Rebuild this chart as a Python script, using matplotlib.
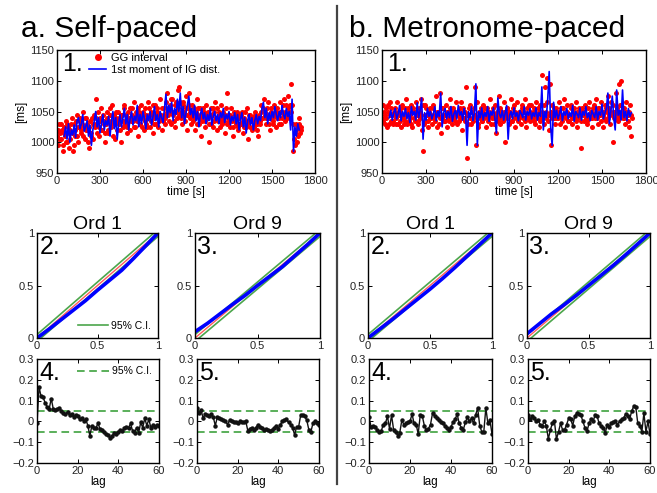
import numpy as np
import matplotlib
matplotlib.use("Agg")
import matplotlib.pyplot as plt
from matplotlib.lines import Line2D

plt.rcParams['font.family'] = ['Liberation Sans', 'DejaVu Sans']

W, H = 657, 493

# ---------------- data ----------------
# Self-paced: 1st moment of IG dist. (blue), t = 50..1690 step 10
sp_blue = [1010, 1025, 1005, 1030, 1000, 1020, 1012, 1028, 1008, 1035,
           1040, 1022, 1030, 1045, 1018, 1025, 1035, 1010, 1028, 995,
           1020, 1035, 1050, 1025, 1040, 1015, 1030, 1045, 1020, 1035,
           1028, 1042, 1010, 1035, 1050, 1022, 1040, 1005, 1030, 1045,
           1025, 1040, 1055, 1030, 1045, 1020, 1038, 1050, 1028, 1042,
           1035, 1060, 1025, 1045, 1030, 1050, 1038, 1022, 1045, 1035,
           1050, 1028, 1042, 1058, 1035, 1045, 1025, 1050, 1040, 1032,
           1055, 1078, 1040, 1060, 1048, 1065, 1035, 1055, 1045, 1070,
           1050, 1080, 1040, 1058, 1030, 1048, 1062, 1075, 1045, 1055,
           1040, 1060, 1035, 1050, 1025, 1045, 1055, 1038, 1048, 1030,
           1045, 1035, 1055, 1028, 1042, 1050, 1035, 1045, 1030, 1048,
           1040, 1055, 1032, 1045, 1038, 1050, 1028, 1042, 1035, 1048,
           1030, 1045, 1020, 1038, 1048, 1025, 1040, 1015, 1035, 1045,
           1028, 1040, 1020, 1035, 1045, 1030, 1042, 1035, 1055, 1065,
           1040, 1055, 1030, 1048, 1035, 1050, 1040, 1058, 1045, 1035,
           1050, 1040, 1060, 1045, 1038, 1055, 1042, 1050, 1020, 1070,
           985, 1025, 1010, 1030, 1020]
sp_blue_t0, sp_blue_t1 = 50, 1690

# Self-paced: GG interval (red dots), two interleaved lists evenly over 0..1700 s
sp_red = [1010, 995, 1030, 1005, 1020, 985, 1015, 1035, 1000, 1025,
          990, 1020, 1040, 985, 1030, 1010, 1045, 1000, 1025, 1035,
          1015, 1050, 1025, 1005, 1040, 1020, 990, 1035, 1010, 1030,
          1045, 1025, 1070, 1030, 1010, 1040, 1055, 1020, 1035, 1000,
          1030, 1050, 1015, 1045, 1025, 1060, 1035, 1005, 1040, 1020,
          1050, 1030, 1000, 1045, 1025, 1060, 1035, 1015, 1050, 1040,
          1020, 1055, 1035, 1065, 1025, 1045, 1010, 1050, 1030, 1060,
          1040, 1020, 1055, 1030, 1065, 1045, 1025, 1050, 1015, 1040,
          1060, 1030, 1050, 1035, 1070, 1045, 1020, 1055, 1040, 1065,
          1080, 1045, 1060, 1030, 1070, 1050, 1025, 1065, 1040, 1085,
          1090, 1050, 1030, 1065, 1045, 1075, 1020, 1055, 1080, 1040,
          1060, 1035, 1050, 1020, 1070, 1045, 1030, 1055, 1010, 1040,
          1050, 1025, 1060, 1040, 1000, 1045, 1030, 1055, 1035, 1065,
          1040, 1020, 1050, 1035, 1060, 1030, 1045, 1015, 1055, 1080,
          1040, 1025, 1055, 1035, 1010, 1045, 1030, 1050, 1020, 1040,
          1030, 1050, 1015, 1040, 1025, 1055, 1005, 1035, 1045, 1020,
          1040, 1025, 1050, 1030, 1010, 1045, 1035, 1060, 1040, 1070,
          1050, 1030, 1065, 1040, 1020, 1055, 1035, 1060, 1045, 1025,
          1055, 1040, 1065, 1030, 1050, 1070, 1035, 1060, 1045, 1075,
          1040, 1095, 1060, 985, 1015, 1030, 1000, 1025, 1040, 1020]
sp_red2 = [1020, 1005, 1015, 1030, 995, 1025, 1010, 1000, 1030, 1015,
           1005, 1030, 1015, 995, 1020, 1035, 1010, 1025, 1040, 1020,
           1030, 1010, 1040, 1020, 1030, 1000, 1025, 1015, 1040, 1005,
           1030, 1040, 1015, 1050, 1025, 1035, 1020, 1045, 1030, 1015,
           1040, 1020, 1035, 1055, 1030, 1010, 1045, 1030, 1050, 1035,
           1040, 1020, 1045, 1035, 1055, 1030, 1045, 1025, 1040, 1055,
           1035, 1045, 1025, 1040, 1050, 1035, 1055, 1030, 1045, 1025,
           1050, 1035, 1045, 1025, 1040, 1055, 1035, 1045, 1060, 1030,
           1045, 1055, 1025, 1045, 1040, 1055, 1035, 1045, 1030, 1050,
           1055, 1035, 1050, 1070, 1045, 1035, 1060, 1050, 1055, 1045,
           1065, 1040, 1060, 1050, 1035, 1055, 1045, 1060, 1050, 1030,
           1045, 1055, 1040, 1050, 1030, 1055, 1040, 1045, 1035, 1055,
           1035, 1045, 1040, 1050, 1030, 1055, 1045, 1025, 1050, 1040,
           1055, 1035, 1045, 1025, 1040, 1050, 1035, 1045, 1030, 1045,
           1035, 1045, 1040, 1025, 1050, 1035, 1040, 1025, 1045, 1030,
           1045, 1035, 1025, 1050, 1035, 1030, 1045, 1025, 1035, 1040,
           1030, 1045, 1035, 1020, 1040, 1030, 1050, 1040, 1055, 1045,
           1040, 1055, 1045, 1030, 1050, 1040, 1030, 1045, 1050, 1040,
           1045, 1030, 1050, 1040, 1060, 1045, 1050, 1040, 1055, 1050,
           1060, 1050, 1030, 1005, 995, 1020, 1010, 1030, 1015, 1025]

# Metronome-paced: blue, t = 50..1700 step 10
mp_blue = [1040, 1052, 1036, 1048, 1055, 1038, 1046, 1060, 1035, 1050,
           1042, 1055, 1038, 1048, 1032, 1058, 1044, 1050, 1036, 1064,
           1040, 1052, 1072, 1005, 1048, 1036, 1055, 1042, 1050, 1038,
           1046, 1058, 1035, 1050, 1042, 1080, 1025, 1048, 1055, 1038,
           1050, 1040, 1058, 1034, 1046, 1052, 1038, 1060, 1044, 1050,
           1036, 1055, 1045, 995, 1050, 1040, 1058, 1035, 1048, 1095,
           995, 1050, 1040, 1056, 1036, 1048, 1042, 1058, 1034, 1050,
           1044, 1056, 1038, 1015, 1072, 1046, 1040, 1052, 1036, 1048,
           1060, 1005, 1044, 1050, 1038, 1056, 1042, 1048, 1035, 1052,
           1046, 1040, 1058, 1036, 1050, 1044, 1055, 1038, 1048, 1042,
           1056, 1036, 1048, 1042, 1090, 1020, 1050, 1040, 1070, 1115,
           1025, 995, 1065, 1040, 1052, 1038, 1046, 1058, 1035, 1050,
           1044, 1055, 1038, 1048, 1042, 1060, 1034, 1050, 1046, 1040,
           1056, 1036, 1050, 1044, 1058, 1040, 1048, 1035, 1052, 1046,
           1040, 1058, 1036, 1050, 1044, 1062, 1038, 1048, 1055, 1080,
           1030, 1050, 1075, 1040, 1020, 1085, 1044, 1052, 1036, 1085,
           1040, 1050, 1035, 1055, 1042, 1048]
mp_blue_t0, mp_blue_t1 = 50, 1700

mp_red = [1040, 1060, 1030, 1055, 1025, 1050, 1065, 1035, 1045, 1030,
          1055, 1040, 1065, 1030, 1050, 1025, 1060, 1045, 1035, 1070,
          1030, 1055, 1040, 1060, 1025, 1050, 1035, 1065, 1045, 1030,
          1050, 1070, 1020, 985, 1060, 1035, 1045, 1025, 1055, 1040,
          1030, 1060, 1045, 1075, 1025, 1050, 1080, 1015, 1040, 1055,
          1035, 1060, 1025, 1050, 1070, 1040, 1030, 1055, 1045, 1065,
          1030, 1050, 1040, 1065, 1020, 1055, 1035, 1090, 975, 1045,
          1060, 1030, 1050, 1040, 1090, 995, 1065, 1025, 1045, 1055,
          1035, 1060, 1045, 1025, 1055, 1040, 1070, 1030, 1050, 1040,
          1060, 1015, 1045, 1075, 1030, 1050, 1040, 1065, 1000, 1045,
          1055, 1030, 1050, 1070, 1035, 1060, 1025, 1045, 1065, 1040,
          1050, 1030, 1060, 1040, 1070, 1025, 1055, 1045, 1035, 1060,
          1040, 1055, 1030, 1065, 1045, 1025, 1060, 1040, 1110, 1030,
          1090, 1050, 1105, 1020, 1095, 995, 1060, 1040, 1030, 1055,
          1045, 1065, 1030, 1055, 1040, 1070, 1025, 1050, 1060, 1035,
          1045, 1060, 1030, 1055, 1040, 1065, 1025, 1050, 1045, 990,
          1055, 1035, 1060, 1045, 1030, 1065, 1040, 1050, 1025, 1060,
          1040, 1070, 1030, 1055, 1045, 1065, 1025, 1050, 1060, 1035,
          1075, 1045, 1030, 1065, 1000, 1050, 1040, 1080, 1035, 1095,
          1060, 1100, 1040, 1055, 1030, 1065, 1045, 1025, 1060, 1010]
mp_red2 = [1035, 1050, 1045, 1040, 1060, 1030, 1045, 1055, 1035, 1050,
           1045, 1030, 1050, 1045, 1035, 1055, 1040, 1030, 1055, 1045,
           1050, 1035, 1045, 1030, 1055, 1040, 1050, 1045, 1035, 1055,
           1040, 1045, 1060, 1030, 1045, 1055, 1035, 1050, 1040, 1045,
           1055, 1040, 1035, 1050, 1045, 1030, 1040, 1055, 1045, 1035,
           1045, 1050, 1040, 1035, 1055, 1045, 1050, 1040, 1035, 1050,
           1045, 1035, 1055, 1040, 1050, 1040, 1050, 1045, 1030, 1055,
           1040, 1050, 1035, 1055, 1045, 1040, 1030, 1050, 1040, 1035,
           1050, 1040, 1055, 1045, 1035, 1050, 1045, 1040, 1055, 1030,
           1045, 1050, 1035, 1040, 1055, 1045, 1035, 1050, 1040, 1055,
           1040, 1050, 1045, 1035, 1055, 1040, 1050, 1040, 1035, 1050,
           1045, 1055, 1040, 1050, 1035, 1045, 1040, 1060, 1050, 1040,
           1050, 1035, 1045, 1040, 1055, 1050, 1035, 1050, 1045, 1060,
           1040, 1065, 1035, 1045, 1050, 1040, 1045, 1055, 1040, 1050,
           1040, 1050, 1045, 1035, 1055, 1045, 1040, 1050, 1035, 1045,
           1055, 1040, 1050, 1045, 1035, 1050, 1040, 1055, 1035, 1050,
           1045, 1050, 1040, 1035, 1055, 1045, 1050, 1040, 1055, 1045,
           1050, 1040, 1055, 1045, 1035, 1050, 1045, 1040, 1055, 1050,
           1040, 1055, 1050, 1045, 1060, 1040, 1050, 1055, 1045, 1040,
           1050, 1045, 1055, 1040, 1050, 1045, 1035, 1050, 1045, 1040]
red_t0, red_t1 = 0, 1700

# KS plots: model quantiles and deviation of empirical curve from diagonal
ks_x = [0.0, 0.1, 0.2, 0.3, 0.4, 0.5, 0.6, 0.7, 0.8, 0.9, 1.0]
ks_dev_sp1 = [0.0, -0.015, -0.025, -0.035, -0.045, -0.045, -0.05, -0.055, -0.04, -0.02, 0.0]
ks_dev_sp9 = [0.06, 0.04, 0.03, 0.02, 0.005, 0.0, -0.01, -0.02, -0.015, -0.01, 0.0]
ks_dev_mp1 = [0.0, -0.01, -0.02, -0.025, -0.03, -0.035, -0.035, -0.03, -0.02, -0.01, 0.0]
ks_dev_mp9 = [0.04, 0.035, 0.03, 0.015, 0.005, 0.0, -0.005, -0.01, -0.01, -0.005, 0.0]
ks_ci = 0.033

# Autocorrelation, lags 0..60
lags = list(range(61))
acf_sp1 = [-0.01, 0.165, 0.12, 0.115, 0.09, 0.07, 0.06, 0.11, 0.06, 0.055,
           0.06, 0.065, 0.05, 0.04, 0.035, 0.045, 0.03, 0.035, 0.02, 0.03,
           0.025, 0.01, 0.015, 0.0, 0.01, -0.02, -0.07, -0.02, -0.03, -0.03,
           -0.01, -0.035, -0.04, -0.05, -0.06, -0.065, -0.08, -0.07, -0.055, -0.06,
           -0.05, -0.04, -0.045, -0.03, -0.025, -0.03, -0.01, -0.045, -0.055, -0.03,
           -0.055, -0.005, -0.03, 0.015, -0.02, 0.01, -0.03, -0.015, -0.025, -0.015, -0.02]
acf_sp9 = [0.065, 0.04, 0.055, 0.015, 0.035, 0.03, 0.025, 0.035, 0.02, -0.02,
           0.02, 0.015, 0.01, 0.005, 0.0, -0.015, 0.005, 0.0, -0.005, -0.005,
           -0.01, 0.0, -0.005, -0.005, 0.0, -0.045, -0.035, -0.03, -0.04, -0.03,
           -0.015, -0.025, -0.03, -0.04, -0.035, -0.04, -0.048, -0.04, -0.03, -0.02,
           -0.035, -0.015, 0.0, 0.005, 0.01, -0.005, -0.015, -0.03, -0.065, -0.025,
           -0.025, 0.03, 0.03, 0.025, 0.005, -0.04, -0.05, -0.01, 0.0, -0.01, -0.015]
acf_mp1 = [0.02, -0.025, -0.02, -0.025, -0.04, -0.05, -0.045, -0.015, -0.01, 0.025,
           -0.035, 0.03, -0.04, -0.05, -0.068, -0.055, 0.005, -0.015, -0.01, -0.005,
           0.0, 0.035, -0.01, -0.015, -0.06, 0.03, 0.025, -0.02, -0.04, -0.035,
           -0.015, 0.04, 0.025, 0.015, 0.005, -0.005, -0.01, -0.02, -0.03, -0.04,
           -0.025, -0.005, 0.01, 0.035, -0.01, -0.03, -0.04, -0.005, 0.02, 0.0,
           0.015, -0.01, 0.03, 0.065, -0.02, -0.05, -0.05, 0.065, -0.01, 0.005, -0.06]
acf_mp9 = [0.03, 0.01, 0.025, 0.015, 0.0, 0.005, -0.015, -0.02, 0.0, -0.02,
           -0.085, -0.04, -0.01, 0.0, -0.085, -0.05, -0.01, -0.04, -0.04, -0.015,
           0.015, 0.01, -0.02, 0.025, 0.04, 0.035, 0.03, 0.0, -0.03, -0.048,
           -0.01, 0.01, 0.0, 0.03, 0.025, -0.01, -0.02, -0.03, -0.055, -0.015,
           -0.025, -0.01, -0.005, 0.0, -0.015, 0.0, 0.01, 0.015, 0.035, 0.025,
           0.01, 0.05, 0.072, 0.07, -0.01, -0.02, -0.05, 0.04, -0.05, 0.0, -0.06]
acf_ci = 0.05

# ---------------- figure ----------------
fig = plt.figure(figsize=(W / 100, H / 100), dpi=100)

def axes_px(l, t, r, b):
    return fig.add_axes([l / W, 1 - b / H, (r - l) / W, (b - t) / H])

TICKC = '#222222'

def style(ax):
    ax.tick_params(direction='in', length=3, width=0.7, top=True, right=True,
                   labelsize=8, colors='black', labelcolor=TICKC, pad=2)
    for s in ax.spines.values():
        s.set_linewidth(1.0)

def label(ax, txt):
    ax.text(0.02, 0.985, txt, transform=ax.transAxes, va='top', ha='left',
            fontsize=18)

def ts_panel(ax, red, red2, blue, bt0, bt1, with_legend):
    rt = np.linspace(red_t0, red_t1, len(red))
    rt2 = rt + (rt[1] - rt[0]) / 2
    bt = np.linspace(bt0, bt1, len(blue))
    ax.plot(rt, red, 'o', color='red', ms=3.6, mec='none', label='GG interval')
    ax.plot(rt2, red2, 'o', color='red', ms=3.6, mec='none')
    ax.plot(bt, blue, '-', color='blue', lw=1.2, label='1st moment of IG dist.')
    ax.set_xlim(0, 1800)
    ax.set_ylim(950, 1150)
    ax.set_xticks(range(0, 1801, 300))
    ax.set_yticks(range(950, 1151, 50))
    ax.set_xlabel('time [s]', fontsize=8.5, labelpad=0)
    ax.set_ylabel('[ms]', fontsize=8.5, labelpad=2)
    style(ax)
    label(ax, '1.')
    if with_legend:
        ax.legend(loc='upper left', bbox_to_anchor=(0.1, 1.03), frameon=False,
                  fontsize=8, handlelength=1.5, handletextpad=0.4,
                  labelspacing=0.15, markerscale=1.4, borderaxespad=0.2)

def ks_panel(ax, dev, num, title, with_legend):
    x = np.array(ks_x)
    ax.plot(x, x + ks_ci, color='#4ca64c', lw=1.2, label='95% C.I.')
    ax.plot(x, x - ks_ci, color='#4ca64c', lw=1.2)
    ax.plot(x, x, color='#ff5a5a', lw=1.0)
    ax.plot(x, x + np.array(dev), color='blue', lw=2.6, solid_capstyle='round')
    ax.set_xlim(0, 1)
    ax.set_ylim(0, 1)
    ax.set_xticks([0, 0.5, 1])
    ax.set_yticks([0, 0.5, 1])
    ax.set_xticklabels(['0', '0.5', '1'])
    ax.set_yticklabels(['0', '0.5', '1'])
    style(ax)
    label(ax, num)
    ax.set_title(title, fontsize=14, pad=3)
    if with_legend:
        ax.legend(loc='lower right', frameon=False, fontsize=7.5,
                  handlelength=2.9, handletextpad=0.3, borderaxespad=0.3)

def acf_panel(ax, acf, num, with_legend):
    ax.axhline(acf_ci, color='#2e9a2e', lw=1.1, ls=(0, (5, 3)), label='95% C.I.')
    ax.axhline(-acf_ci, color='#2e9a2e', lw=1.1, ls=(0, (5, 3)))
    ax.plot(lags, acf, '-', color='#111111', lw=1.0, marker='o', ms=2.2)
    ax.set_xlim(0, 60)
    ax.set_ylim(-0.2, 0.3)
    ax.set_xticks([0, 20, 40, 60])
    ax.set_yticks([-0.2, -0.1, 0, 0.1, 0.2, 0.3])
    ax.set_yticklabels(['\u22120.2', '\u22120.1', '0', '0.1', '0.2', '0.3'])
    ax.set_xlabel('lag', fontsize=8.5, labelpad=0)
    style(ax)
    label(ax, num)
    if with_legend:
        ax.legend(loc='upper right', frameon=False, fontsize=7.5,
                  handlelength=3.0, handletextpad=0.3, borderaxespad=0.3)

# top time-series panels
ax_a1 = axes_px(57, 50, 315, 173)
ts_panel(ax_a1, sp_red, sp_red2, sp_blue, sp_blue_t0, sp_blue_t1, True)
ax_b1 = axes_px(382, 50, 646, 173)
ts_panel(ax_b1, mp_red, mp_red2, mp_blue, mp_blue_t0, mp_blue_t1, False)

# KS panels
ks_panel(axes_px(37, 233, 158, 338), ks_dev_sp1, '2.', 'Ord 1', True)
ks_panel(axes_px(195, 233, 320, 338), ks_dev_sp9, '3.', 'Ord 9', False)
ks_panel(axes_px(368, 233, 492, 338), ks_dev_mp1, '2.', 'Ord 1', False)
ks_panel(axes_px(527, 233, 650, 338), ks_dev_mp9, '3.', 'Ord 9', False)

# ACF panels
acf_panel(axes_px(37, 359, 159, 463), acf_sp1, '4.', True)
acf_panel(axes_px(197, 359, 319, 463), acf_sp9, '5.', False)
acf_panel(axes_px(369, 359, 492, 463), acf_mp1, '4.', False)
acf_panel(axes_px(528, 359, 650, 463), acf_mp9, '5.', False)

# headings
fig.text(21 / W, 1 - 37 / H, 'a. Self-paced', fontsize=21.5, va='baseline', ha='left')
fig.text(349 / W, 1 - 37 / H, 'b. Metronome-paced', fontsize=21.5, va='baseline', ha='left')

# separator line
fig.add_artist(Line2D([337 / W, 337 / W], [1 - 6 / H, 1 - 484 / H],
                      transform=fig.transFigure, color='#444444', lw=1.6))

fig.savefig('out.png', dpi=100)
